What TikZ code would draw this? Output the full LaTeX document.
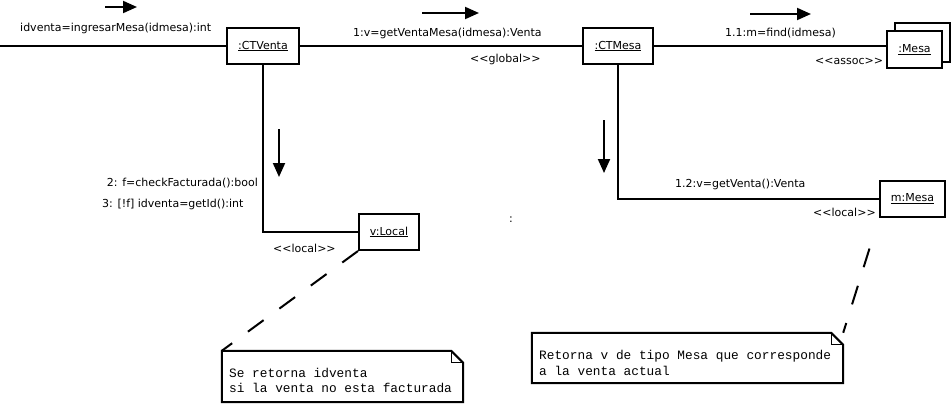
\documentclass[tikz,border=0pt]{standalone}
\usepackage{fontspec}
\setmainfont{DejaVu Sans}
\newfontfamily\notefont{Liberation Mono}
\usetikzlibrary{arrows.meta}
\newcommand\lblfont{\fontsize{11}{13}\selectfont}
\newcommand\stO{<\kern0pt<}
\newcommand\stC{>\kern0pt>}
\begin{document}
\begin{tikzpicture}[x=1pt,y=-1pt,
  obj/.style={draw,line width=2pt,inner sep=0pt,font=\lblfont,fill=white},
  lbl/.style={font=\lblfont,inner sep=0pt},
  conn/.style={line width=2pt},
  msg/.style={line width=2pt,-{Triangle[length=14pt,width=12pt]}},
  notebox/.style={inner sep=0pt},
  notetxt/.style={font=\notefont\fontsize{12.8}{15}\selectfont,inner sep=0pt,anchor=base west},
  link/.style={line width=2pt,dash pattern=on 19.5pt off 19.5pt},
  fold/.style={line width=1pt}]
\useasboundingbox (0,0) rectangle (952,404);

% objects
\node[obj,minimum width=72pt,minimum height=36pt] (ctv) at (263,46) {\underline{:CTVenta}};
\node[obj,minimum width=70pt,minimum height=35pt] (ctm) at (618,46) {\underline{:CTMesa}};
\node[obj,minimum width=55pt,minimum height=39pt] (mesab) at (922.5,42.5) {};
\node[obj,minimum width=55pt,minimum height=37pt] (mesa) at (914.5,49.5) {\underline{:Mesa}};
\node[obj,minimum width=60pt,minimum height=36pt] (vl) at (389,232) {\underline{v:Local}};
\node[obj,minimum width=65pt,minimum height=36pt] (mm) at (912.5,199) {\underline{m:Mesa}};

% links
\coordinate (start) at (0,46);
\draw[conn] (start) -- (ctv.west);
\draw[conn] (ctv.east) -- (ctm.west);
\draw[conn] (ctm.east) -- (ctm.east -| mesa.west);
\draw[conn] (ctv.south) |- (vl.west);
\draw[conn] (ctm.south) |- (mm.west);

% labels
\node[lbl,anchor=base west] (l0) at (20,32) {idventa=ingresarMesa(idmesa):int};
\node[lbl,anchor=base west] (l1) at (353,37) {1:v=getVentaMesa(idmesa):Venta};
\node[lbl,anchor=base west] (g1) at (470,63) {\stO global\stC};
\node[lbl,anchor=base west] (l11) at (725,37) {1.1:m=find(idmesa)};
\node[lbl,anchor=base west] (as1) at (815,64) {\stO assoc\stC};
\node[lbl,anchor=base east] (l2) at (258,186) {2: f=checkFacturada():bool};
\node[lbl,anchor=base west] (l3) at (102,207) {3: [!f] idventa=getId():int};
\node[lbl,anchor=base west] (lo1) at (273,252) {\stO local\stC};
\node[lbl,anchor=base west] (l12) at (675,187) {1.2:v=getVenta():Venta};
\node[lbl,anchor=base west] (lo2) at (813,216) {\stO local\stC};
\node[lbl] (colon) at (511,220) {:};

% message arrows
\coordinate (a0s) at (105,7);   \coordinate (a0e) at (137,7);
\coordinate (a1s) at (422,13);  \coordinate (a1e) at (479,13);
\coordinate (a2s) at (750,14);  \coordinate (a2e) at (811,14);
\coordinate (a3s) at (279,129); \coordinate (a3e) at (279,177);
\coordinate (a4s) at (604,120); \coordinate (a4e) at (604,173);
\draw[msg] (a0s) -- (a0e);
\draw[msg] (a1s) -- (a1e);
\draw[msg] (a2s) -- (a2e);
\draw[msg] (a3s) -- (a3e);
\draw[msg] (a4s) -- (a4e);

% notes
\node[notebox,minimum width=241pt,minimum height=51pt] (n1) at (342.5,376.5) {};
\draw[line width=2pt] (n1.north west) -- ([xshift=-12pt]n1.north east) -- ([yshift=-12pt]n1.north east) -- (n1.south east) -- (n1.south west) -- cycle;
\draw[fold] ([xshift=-12pt]n1.north east) -- ([xshift=-12pt,yshift=-12pt]n1.north east) -- ([yshift=-12pt]n1.north east);
\node[notetxt] (n1a) at (229,377) {Se retorna idventa};
\node[notetxt] (n1b) at (229,392) {si la venta no esta facturada};

\node[notebox,minimum width=311pt,minimum height=50pt] (n2) at (687.5,358) {};
\draw[line width=2pt] (n2.north west) -- ([xshift=-12pt]n2.north east) -- ([yshift=-12pt]n2.north east) -- (n2.south east) -- (n2.south west) -- cycle;
\draw[fold] ([xshift=-12pt]n2.north east) -- ([xshift=-12pt,yshift=-12pt]n2.north east) -- ([yshift=-12pt]n2.north east);
\node[notetxt] (n2a) at (539,359) {Retorna v de tipo Mesa que corresponde};
\node[notetxt] (n2b) at (539,375) {a la venta actual};

% note anchors
\draw[link] (vl.south west) -- (n1.north west);
\draw[link,shorten <=32pt] (mm.south west) -- (n2.north east);
\end{tikzpicture}
\end{document}
